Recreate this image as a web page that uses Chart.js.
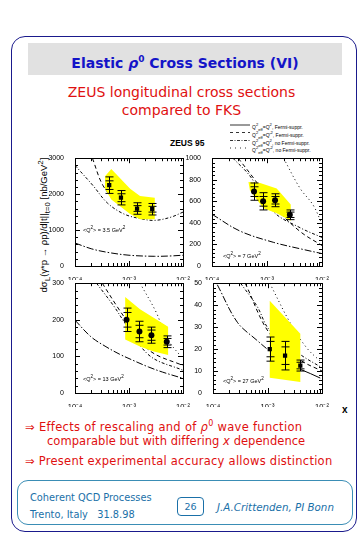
<!DOCTYPE html>
<html><head><meta charset="utf-8">
<script src="https://cdn.jsdelivr.net/npm/chart.js@4/dist/chart.umd.min.js"></script>
<style>
html,body{margin:0;padding:0;background:#fff;}
body{width:363px;height:535px;position:relative;overflow:hidden;font-family:"DejaVu Sans",Verdana,sans-serif;}
.abs{position:absolute;}
canvas{position:absolute;}
#frame{left:11px;top:36px;width:344px;height:494px;border:1.5px solid #1a1a8c;border-radius:14px;}
#titlebox{left:28px;top:43px;width:314px;height:32px;background:#e1e1e1;color:#1414c8;font-weight:bold;font-size:14px;line-height:32px;text-align:center;}
.sub{color:#e01010;font-size:14px;text-align:center;width:363px;left:0;}
.leg{font-family:"Liberation Sans",Arial,sans-serif;font-size:5px;color:#000;left:252px;}
.q2{font-family:"Liberation Sans",Arial,sans-serif;font-size:5.5px;color:#000;white-space:nowrap;}
.btxt{color:#e01010;font-size:11.5px;white-space:nowrap;}
#footer{left:17px;top:480px;width:334px;height:43px;border:1px solid #3a8db5;border-radius:11px;}
.ft{color:#1a70a8;font-size:9.8px;white-space:nowrap;}
#pg{left:177px;top:497px;width:25px;height:17px;border:1px solid #1a70a8;border-radius:4px;color:#1a70a8;font-size:9.5px;line-height:17px;text-align:center;}
</style></head>
<body>
<div id="frame" class="abs"></div>
<div id="titlebox" class="abs">Elastic <i>ρ</i><sup style="font-size:9px">0</sup> Cross Sections (VI)</div>
<div class="abs sub" style="top:84px;">ZEUS longitudinal cross sections</div>
<div class="abs sub" style="top:102px;">compared to FKS</div>

<svg class="abs" style="left:228px;top:122px" width="24" height="32">
<line x1="2" y1="3" x2="22" y2="3" stroke="#000" stroke-width="0.8"/>
<line x1="2" y1="10.5" x2="22" y2="10.5" stroke="#000" stroke-width="0.8" stroke-dasharray="3,3"/>
<line x1="2" y1="18.5" x2="22" y2="18.5" stroke="#000" stroke-width="0.8" stroke-dasharray="3,1.5,1,1.5"/>
<line x1="2" y1="26" x2="22" y2="26" stroke="#000" stroke-width="0.8" stroke-dasharray="1,4"/>
</svg>
<div class="abs leg" style="top:122px;">Q<sup>2</sup><sub>eff</sub>=Q<sup>2</sup>, Fermi-suppr.</div>
<div class="abs leg" style="top:129.5px;">Q<sup>2</sup><sub>eff</sub>=Q'<sup>2</sup>, Fermi-suppr.</div>
<div class="abs leg" style="top:137.5px;">Q<sup>2</sup><sub>eff</sub>=Q<sup>2</sup>, no Fermi-suppr.</div>
<div class="abs leg" style="top:145px;">Q<sup>2</sup><sub>eff</sub>=Q'<sup>2</sup>, no Fermi-suppr.</div>
<div class="abs" style="left:170px;top:138px;font-family:'Liberation Sans',Arial,sans-serif;font-weight:bold;font-size:8.5px;">ZEUS 95</div>

<div class="abs" style="left:44px;top:225px;width:0;height:0;">
<div style="position:absolute;transform:translate(-50%,-50%) rotate(-90deg);white-space:nowrap;font-family:'Liberation Sans',Arial,sans-serif;font-size:9.5px;">dσ<sub>L</sub>(γ*p → ρp)/d|t||<sub>t=0</sub> [nb/GeV<sup>2</sup>]</div>
</div>
<div class="abs" style="left:342px;top:404px;font-family:'Liberation Sans',Arial,sans-serif;font-weight:bold;font-size:10px;">x</div>

<canvas id="c0" style="left:47px;top:151px" width="146" height="129"></canvas>
<canvas id="c1" style="left:184px;top:151px" width="148" height="129"></canvas>
<canvas id="c2" style="left:47px;top:276px" width="146" height="131"></canvas>
<canvas id="c3" style="left:185px;top:276px" width="147" height="131"></canvas>

<div class="abs q2" style="left:83px;top:225px;">&lt;Q<sup>2</sup>&gt; = 3.5 GeV<sup>2</sup></div>
<div class="abs q2" style="left:223px;top:251px;">&lt;Q<sup>2</sup>&gt; = 7 GeV<sup>2</sup></div>
<div class="abs q2" style="left:83px;top:374px;">&lt;Q<sup>2</sup>&gt; = 13 GeV<sup>2</sup></div>
<div class="abs q2" style="left:223px;top:376px;">&lt;Q<sup>2</sup>&gt; = 27 GeV<sup>2</sup></div>

<div class="abs btxt" style="left:25px;top:419px;letter-spacing:0.3px;">⇒ Effects of rescaling and of <i>ρ</i><sup style="font-size:8px">0</sup> wave function</div>
<div class="abs btxt" style="left:47px;top:434px;letter-spacing:0.05px;">comparable but with differing <i>x</i> dependence</div>
<div class="abs btxt" style="left:25px;top:454px;letter-spacing:0.25px;">⇒ Present experimental accuracy allows distinction</div>

<div id="footer" class="abs"></div>
<div class="abs ft" style="left:30px;top:492px;">Coherent QCD Processes</div>
<div class="abs ft" style="left:30px;top:509px;">Trento, Italy &nbsp; 31.8.98</div>
<div id="pg" class="abs">26</div>
<div class="abs ft" style="left:217px;top:501px;font-style:italic;font-size:10.3px;">J.A.Crittenden, PI Bonn</div>

<script>
// ---- data ----
const xTickValues = [1e-4, 1e-3, 1e-2];
const yMaxes = [3000, 1000, 300, 50];
const ySteps = [1000, 200, 100, 10];

// measured points: x, value, total error, statistical error
const ptX_35 = [4.3e-4, 7.1e-4, 1.41e-3, 2.69e-3];
const ptY_35 = [2250, 1900, 1600, 1580];
const ptTot_35 = [230, 200, 160, 160];
const ptStat_35 = [120, 110, 80, 80];

const ptX_7 = [5.8e-4, 8.5e-4, 1.4e-3, 2.6e-3];
const ptY_7 = [690, 600, 610, 475];
const ptTot_7 = [80, 80, 60, 45];
const ptStat_7 = [45, 45, 35, 25];

const ptX_13 = [9.0e-4, 1.56e-3, 2.6e-3, 5.0e-3];
const ptY_13 = [200, 168, 158, 140];
const ptTot_13 = [32, 28, 22, 16];
const ptStat_13 = [20, 17, 14, 9];

const ptX_27 = [1.1e-3, 2.1e-3, 4.0e-3];
const ptY_27 = [20, 17, 12.5];
const ptTot_27 = [5.5, 6.5, 2.5];
const ptStat_27 = [3.5, 4, 1.5];

// FKS model band (yellow), closed polygon
const bandX_35 = [3.6e-4, 4.7e-4, 1.05e-3, 1.6e-3, 3.0e-3, 3.0e-3, 1.6e-3, 1.05e-3, 4.7e-4, 3.6e-4];
const bandY_35 = [2500, 2700, 2150, 1950, 1900, 1300, 1300, 1450, 1850, 2150];
const bandX_7 = [4.6e-4, 7.5e-4, 1.5e-3, 2.7e-3, 2.7e-3, 1.5e-3, 8.6e-4, 4.9e-4];
const bandY_7 = [780, 770, 720, 570, 420, 490, 535, 700];
const bandX_13 = [8.5e-4, 1.6e-3, 5.3e-3, 5.3e-3, 2.77e-3, 1.6e-3, 8.5e-4];
const bandY_13 = [262, 229, 181, 104, 114, 127, 146];
const bandX_27 = [1.1e-3, 4e-3, 4e-3, 1.1e-3];
const bandY_27 = [42, 27, 5, 7];

// model curves
const lowX_35 = [1e-4, 2e-4, 4e-4, 1e-3, 3e-3, 6e-3, 1e-2];
const lowY_35 = [640, 480, 380, 300, 270, 280, 300];
const ddX_35 = [1e-4, 2.15e-4, 4e-4, 8e-4, 1.6e-3, 3e-3, 6e-3, 1e-2];
const ddY_35 = [2800, 2240, 1750, 1450, 1320, 1270, 1360, 1500];
const dsX_35 = [2.1e-4, 3.3e-4, 6e-4, 1.2e-3, 3e-3];
const dsY_35 = [3000, 2240, 1800, 1550, 1400];

const lowX_7 = [1e-4, 3.2e-4, 1.3e-3, 4e-3, 1e-2];
const lowY_7 = [480, 325, 220, 160, 115];
const ddX_7 = [2.4e-4, 4.9e-4, 1.3e-3, 4e-3, 1e-2];
const ddY_7 = [1000, 835, 505, 355, 265];
const dsX_7 = [3.0e-4, 6e-4, 1.3e-3, 4e-3, 1e-2];
const dsY_7 = [1000, 800, 560, 320, 190];
const dtX_7 = [2e-3, 4e-3, 6.9e-3, 1e-2];
const dtY_7 = [1000, 720, 565, 390];

const lowX_13 = [1e-4, 1.96e-4, 3.6e-4, 6.7e-4, 1.24e-3, 2.3e-3, 4.2e-3, 1e-2];
const lowY_13 = [199, 154, 128, 106, 88, 71, 57, 40];
const ddX_13 = [2.5e-4, 5.2e-4, 9e-4, 2.45e-3, 1e-2];
const ddY_13 = [300, 238, 185, 101, 62];
const dsX_13 = [3.2e-4, 6.1e-4, 1.05e-3, 2.45e-3, 1e-2];
const dsY_13 = [300, 235, 185, 115, 75];
const dtX_13 = [1.6e-3, 3.2e-3, 5e-3, 1e-2];
const dtY_13 = [300, 220, 150, 93];

const lowX_27 = [1.2e-4, 2.8e-4, 6.4e-4, 1.1e-3];
const lowY_27 = [49.3, 32.2, 24, 19];
const solX_27 = [1.1e-3, 2.1e-3, 4e-3, 9.3e-3];
const solY_27 = [14.5, 13, 10.8, 6.8];
const ddX_27 = [3.2e-4, 6.4e-4, 1.1e-3, 4e-3, 1e-2];
const ddY_27 = [50, 39.6, 28.5, 17.5, 11.5];
const dsX_27 = [3.9e-4, 1.1e-3, 4e-3, 1e-2];
const dsY_27 = [50, 27, 15, 10];
const dtX_27 = [1.1e-3, 2.6e-3, 5.3e-3, 1e-2];
const dtY_27 = [50, 32, 20.4, 13.8];

// ---- build ----
const zip = (xs, ys) => xs.map((x, i) => ({x: x, y: ys[i]}));
const sup = {'-':'⁻','0':'⁰','1':'¹','2':'²','3':'³','4':'⁴','5':'⁵'};
function curve(xs, ys, dash) {
  return {type:'scatter', data: zip(xs, ys), showLine:true, borderColor:'#000', borderWidth:1,
          borderDash: dash, pointRadius:0, fill:false, tension:0.35};
}
const DASH = {low:[7,2,1.5,2], dd:[3,2,1,2], ds:[4,3], dt:[1,3], sol:[]};

const panels = [
  {pts:[ptX_35, ptY_35, ptTot_35, ptStat_35], style:'rect', band:[bandX_35, bandY_35],
   curves:[[lowX_35, lowY_35, DASH.low],[ddX_35, ddY_35, DASH.dd],[dsX_35, dsY_35, DASH.ds]]},
  {pts:[ptX_7, ptY_7, ptTot_7, ptStat_7], style:'circle', band:[bandX_7, bandY_7],
   curves:[[lowX_7, lowY_7, DASH.low],[ddX_7, ddY_7, DASH.dd],[dsX_7, dsY_7, DASH.ds],[dtX_7, dtY_7, DASH.dt]]},
  {pts:[ptX_13, ptY_13, ptTot_13, ptStat_13], style:'circle', band:[bandX_13, bandY_13],
   curves:[[lowX_13, lowY_13, DASH.low],[ddX_13, ddY_13, DASH.dd],[dsX_13, dsY_13, DASH.ds],[dtX_13, dtY_13, DASH.dt]]},
  {pts:[ptX_27, ptY_27, ptTot_27, ptStat_27], style:'rect', band:[bandX_27, bandY_27],
   curves:[[lowX_27, lowY_27, DASH.low],[solX_27, solY_27, DASH.sol],[ddX_27, ddY_27, DASH.dd],[dsX_27, dsY_27, DASH.ds],[dtX_27, dtY_27, DASH.dt]]}
];

const framePlugin = {
  id:'frameTicks',
  afterDatasetsDraw(chart, args, opts) {
    const ctx = chart.ctx, a = chart.chartArea, xs = chart.scales.x, ys = chart.scales.y;
    ctx.save();
    const ds = chart.data.datasets[0];
    ctx.strokeStyle = '#000'; ctx.lineWidth = 1;
    ds.data.forEach((p, i) => {
      const px = Math.round(xs.getPixelForValue(p.x)) + 0.5;
      const yT1 = ys.getPixelForValue(p.y + ds.errTot[i]), yT2 = ys.getPixelForValue(p.y - ds.errTot[i]);
      const yS1 = ys.getPixelForValue(p.y + ds.errStat[i]), yS2 = ys.getPixelForValue(p.y - ds.errStat[i]);
      ctx.beginPath();
      ctx.moveTo(px, yT1); ctx.lineTo(px, yT2);
      [yT1, yT2].forEach(y => { ctx.moveTo(px - 4, y); ctx.lineTo(px + 4, y); });
      [yS1, yS2].forEach(y => { ctx.moveTo(px - 4, y); ctx.lineTo(px + 4, y); });
      ctx.stroke();
    });
    ctx.strokeRect(Math.round(a.left) + 0.5, Math.round(a.top) + 0.5, Math.round(a.right - a.left), Math.round(a.bottom - a.top));
    ctx.beginPath();
    for (let e = -4; e <= -2; e++) {
      for (let m = 1; m <= 9; m++) {
        const v = m * Math.pow(10, e);
        if (v > 1.0001e-2) break;
        const px = Math.round(xs.getPixelForValue(v)) + 0.5;
        const L = m === 1 ? 5 : 3;
        ctx.moveTo(px, a.bottom); ctx.lineTo(px, a.bottom - L);
        ctx.moveTo(px, a.top); ctx.lineTo(px, a.top + L);
      }
    }
    const step = opts.step, max = opts.max;
    for (let k = 0; k <= Math.round(max / (step / 5)); k++) {
      const v = k * step / 5;
      const py = Math.round(ys.getPixelForValue(v)) + 0.5;
      const L = k % 5 === 0 ? 5 : 3;
      ctx.moveTo(a.left, py); ctx.lineTo(a.left + L, py);
      ctx.moveTo(a.right, py); ctx.lineTo(a.right - L, py);
    }
    ctx.stroke();
    ctx.restore();
  }
};

panels.forEach((p, idx) => {
  const datasets = [];
  datasets.push({type:'scatter', data: zip(p.pts[0], p.pts[1]), errTot: p.pts[2], errStat: p.pts[3],
    pointStyle: p.style, pointRadius: 3, backgroundColor:'#000', borderColor:'#000', borderWidth:0, showLine:false});
  const bx = p.band[0].concat([p.band[0][0]]), by = p.band[1].concat([p.band[1][0]]);
  datasets.push({type:'scatter', data: zip(bx, by), showLine:true, borderWidth:0, borderColor:'rgba(0,0,0,0)',
    backgroundColor:'#ffff00', fill:'shape', pointRadius:0, tension:0});
  p.curves.forEach(c => datasets.push(curve(c[0], c[1], c[2])));
  new Chart(document.getElementById('c' + idx), {
    type:'scatter',
    data:{datasets},
    options:{
      responsive:false, animation:false, devicePixelRatio:1,
      layout:{padding:{top:4, right:10, left:0, bottom:0}},
      plugins:{legend:{display:false}, tooltip:{enabled:false}, frameTicks:{step: ySteps[idx], max: yMaxes[idx]}},
      scales:{
        x:{type:'logarithmic', min:1e-4, max:1e-2, grid:{display:false}, border:{display:false},
           afterFit:s => { s.height = 14; },
           ticks:{autoSkip:false, maxRotation:0, padding:1, color:'#000', font:{family:'Liberation Sans', size:7.5},
             callback:(v) => { const l = Math.log10(v); if (Math.abs(l - Math.round(l)) > 1e-6) return '';
               return '10' + String(Math.round(l)).split('').map(ch => sup[ch]).join(''); }}},
        y:{min:0, max:yMaxes[idx], grid:{display:false}, border:{display:false},
           afterFit:s => { s.width = 28; },
           ticks:{stepSize:ySteps[idx], padding:3, color:'#000', font:{family:'Liberation Sans', size:7},
             callback:(v) => String(v)}}
      }
    },
    plugins:[framePlugin]
  });
});
</script>
</body></html>
